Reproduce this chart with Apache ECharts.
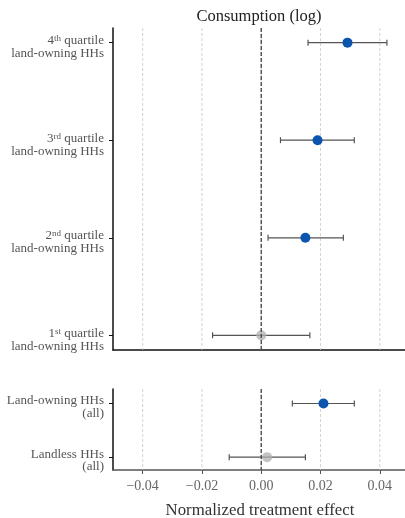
<!DOCTYPE html>
<html>
<head>
<meta charset="utf-8">
<script src="https://cdn.jsdelivr.net/npm/echarts@6/dist/echarts.min.js"></script>
<style>html,body{margin:0;padding:0;background:#fff;}#c{width:405px;height:518px;}</style>
</head>
<body>
<div id="c"></div>
<script>
// ---- data ----
const topNums = ['1', '2', '3', '4'];
const topSups = ['st', 'nd', 'rd', 'th'];
const topEst = [0.0000, 0.0149, 0.0190, 0.0291];
const topLo  = [-0.0164, 0.0023, 0.0065, 0.0158];
const topHi  = [0.0164, 0.0277, 0.0314, 0.0424];
const topSig = [false, true, true, true];

const botNames = ['Landless HHs', 'Land-owning HHs'];
const botEst = [0.0020, 0.0210];
const botLo  = [-0.0108, 0.0105];
const botHi  = [0.0149, 0.0314];
const botSig = [false, true];

const xTicks = [-0.04, -0.02, 0.00, 0.02, 0.04];
const titleText = 'Consumption (log)';
const xName = 'Normalized treatment effect';

// ---- styles ----
const FONT = 'Liberation Serif';
const BLUE = '#0b55ae';
const GREY = 'rgba(175,175,175,0.75)';
const X_MIN = -0.05, X_MAX = 0.0485;

function fmt(v) {
  return v.toFixed(2).replace('-', '\u2212');
}

function errData(est, lo, hi) {
  return est.map((e, i) => [lo[i], hi[i], i]);
}
function ptData(est, sig) {
  return est.map((e, i) => ({ value: [e, i], itemStyle: { color: sig[i] ? BLUE : GREY, opacity: 1 } }));
}

function errRender(params, api) {
  const y = api.value(2);
  const p1 = api.coord([api.value(0), y]);
  const p2 = api.coord([api.value(1), y]);
  const st = { stroke: '#555', lineWidth: 1.2 };
  const cap = 3;
  return {
    type: 'group',
    children: [
      { type: 'line', shape: { x1: p1[0], y1: p1[1], x2: p2[0], y2: p2[1] }, style: st },
      { type: 'line', shape: { x1: p1[0], y1: p1[1] - cap, x2: p1[0], y2: p1[1] + cap }, style: st },
      { type: 'line', shape: { x1: p2[0], y1: p2[1] - cap, x2: p2[0], y2: p2[1] + cap }, style: st }
    ]
  };
}

function vlineRender(color, width, dash) {
  return function (params, api) {
    const cs = params.coordSys;
    const x = api.coord([api.value(0), 0])[0];
    return {
      type: 'line',
      shape: { x1: x, y1: cs.y, x2: x, y2: cs.y + cs.height },
      style: { stroke: color, lineWidth: width, lineDash: dash }
    };
  };
}

const richTop = {
  a: { fontFamily: FONT, fontSize: 13, color: '#555', lineHeight: 12.8, align: 'right' },
  s: { fontFamily: FONT, fontSize: 9, color: '#555', verticalAlign: 'top', lineHeight: 12.8, padding: [0, 0, 4, 0], align: 'right' }
};

const chart = echarts.init(document.getElementById('c'));
const gridLines = xTicks.map(v => [v]);

chart.setOption({
  animation: false,
  backgroundColor: '#fff',
  graphic: [
    { type: 'text', x: 259, y: 16.5, style: { text: titleText, fontFamily: FONT, fontSize: 16.5, fill: '#222', textAlign: 'center', textVerticalAlign: 'middle' } },
    { type: 'text', x: 260, y: 511, style: { text: xName, fontFamily: FONT, fontSize: 16.8, fill: '#333', textAlign: 'center', textVerticalAlign: 'middle' } }
  ],
  grid: [
    { left: 113, top: 28, width: 292, height: 322 },
    { left: 113, top: 389, width: 292, height: 81 }
  ],
  xAxis: [
    {
      gridIndex: 0, type: 'value', min: X_MIN, max: X_MAX,
      axisLine: { show: true, onZero: false, lineStyle: { color: '#111', width: 1.5 } },
      axisTick: { show: false }, axisLabel: { show: false }, splitLine: { show: false }
    },
    {
      gridIndex: 1, type: 'value', min: X_MIN, max: X_MAX,
      axisLine: { show: true, onZero: false, lineStyle: { color: '#555', width: 1.5 } },
      axisTick: { show: true, customValues: xTicks, length: 4, lineStyle: { color: '#555', width: 1 } },
      axisLabel: { show: true, customValues: xTicks, formatter: v => fmt(v), fontFamily: FONT, fontSize: 14, color: '#666', margin: 9 },
      splitLine: { show: false }
    }
  ],
  yAxis: [
    {
      gridIndex: 0, type: 'value', min: -0.15, max: 3.15,
      axisLine: { show: true, onZero: false, lineStyle: { color: '#111', width: 1.5 } },
      axisTick: { show: true, customValues: [0, 1, 2, 3], length: 4, lineStyle: { color: '#111', width: 1 } },
      axisLabel: {
        show: true, customValues: [0, 1, 2, 3], margin: 9, align: 'right', padding: [9, 0, 0, 0],
        formatter: v => {
          const i = Math.round(v);
          return '{a|' + topNums[i] + '}{s|' + topSups[i] + '}{a| quartile}\n{a|land-owning HHs}';
        },
        rich: richTop
      },
      splitLine: { show: false }
    },
    {
      gridIndex: 1, type: 'value', min: -0.24, max: 1.27,
      axisLine: { show: true, onZero: false, lineStyle: { color: '#111', width: 1.5 } },
      axisTick: { show: true, customValues: [0, 1], length: 4, lineStyle: { color: '#111', width: 1 } },
      axisLabel: {
        show: true, customValues: [0, 1], margin: 9, align: 'right', padding: [7, 0, 0, 0],
        formatter: v => '{a|' + botNames[Math.round(v)] + '}\n{a|(all)}',
        rich: richTop
      },
      splitLine: { show: false }
    }
  ],
  series: [
    { type: 'custom', xAxisIndex: 0, yAxisIndex: 0, data: gridLines, encode: { x: 0 }, renderItem: vlineRender('#c8c8c8', 0.8, [3, 2]), z: 1, silent: true },
    { type: 'custom', xAxisIndex: 1, yAxisIndex: 1, data: gridLines, encode: { x: 0 }, renderItem: vlineRender('#c8c8c8', 0.8, [3, 2]), z: 1, silent: true },
    { type: 'custom', xAxisIndex: 0, yAxisIndex: 0, data: errData(topEst, topLo, topHi), encode: { x: [0, 1], y: 2 }, renderItem: errRender, z: 3, silent: true },
    { type: 'custom', xAxisIndex: 1, yAxisIndex: 1, data: errData(botEst, botLo, botHi), encode: { x: [0, 1], y: 2 }, renderItem: errRender, z: 3, silent: true },
    { type: 'scatter', xAxisIndex: 0, yAxisIndex: 0, data: ptData(topEst, topSig), symbolSize: 10, z: 4, silent: true },
    { type: 'scatter', xAxisIndex: 1, yAxisIndex: 1, data: ptData(botEst, botSig), symbolSize: 10, z: 4, silent: true },
    { type: 'custom', xAxisIndex: 0, yAxisIndex: 0, data: [[0]], encode: { x: 0 }, renderItem: vlineRender('#444', 1.3, [4, 2]), z: 5, silent: true },
    { type: 'custom', xAxisIndex: 1, yAxisIndex: 1, data: [[0]], encode: { x: 0 }, renderItem: vlineRender('#444', 1.3, [4, 2]), z: 5, silent: true }
  ]
});
</script>
</body>
</html>
